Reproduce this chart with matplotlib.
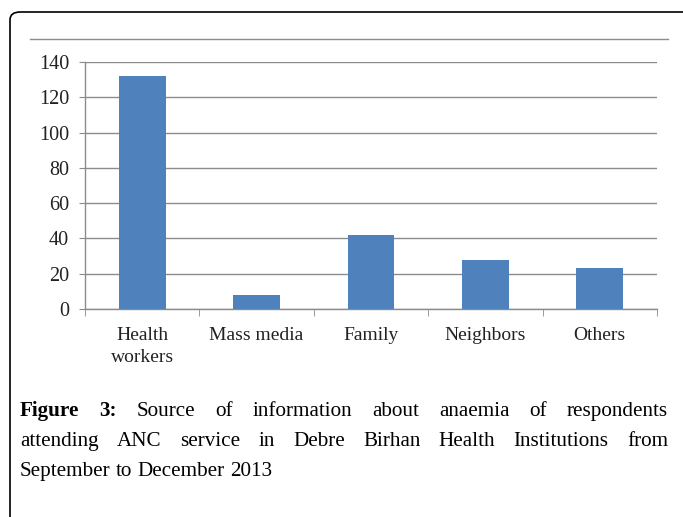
import matplotlib
matplotlib.use("Agg")
import matplotlib.pyplot as plt
from matplotlib.patches import FancyBboxPatch
from matplotlib.lines import Line2D
import numpy as np

categories = ["Health\nworkers", "Mass media", "Family", "Neighbors", "Others"]
values = [132, 8, 42, 28, 23]
yticks = [0, 20, 40, 60, 80, 100, 120, 140]
caption_lines = [
    ["Source", "of", "information", "about", "anaemia", "of", "respondents"],
    ["attending", "ANC", "service", "in", "Debre", "Birhan", "Health", "Institutions", "from"],
    ["September", "to", "December", "2013"],
]

W, H = 683, 517
fig = plt.figure(figsize=(W / 100, H / 100), dpi=100)
fig.patch.set_facecolor("white")

def fx(px):
    return px / W

def fy(py):
    return 1 - py / H

# Outer rounded border
box = FancyBboxPatch((fx(10), fy(530)), fx(700) - fx(10), fy(12) - fy(530),
                     boxstyle="round,pad=0,rounding_size=0.015",
                     transform=fig.transFigure, facecolor="none",
                     edgecolor="black", linewidth=1.2, clip_on=False)
fig.patches.append(box)

# top separator line
fig.add_artist(Line2D([fx(30), fx(668)], [fy(39), fy(39)], transform=fig.transFigure,
                      color="#8c8c8c", linewidth=1.0))

serif = "Liberation Serif"
ax = fig.add_axes([fx(85), fy(309), fx(657) - fx(85), fy(62) - fy(309)])
x = np.arange(len(categories))
ax.bar(x, values, width=0.41, color="#4F81BD", zorder=3)
ax.set_xlim(-0.5, len(categories) - 0.5)
ax.set_ylim(0, 140)
ax.set_yticks(yticks)
ax.set_yticklabels([str(v) for v in yticks], fontfamily=serif, fontsize=14.5, color="#222222")
ax.yaxis.grid(True, color="#8c8c8c", linewidth=1.0, zorder=0)
ax.set_xticks(x)
ax.set_xticklabels(categories, fontfamily=serif, fontsize=14, color="#222222")
for lab in ax.get_xticklabels():
    lab.set_linespacing(1.35)
ax.tick_params(axis="x", length=0, pad=13)
ax.tick_params(axis="y", length=4.5, color="#8c8c8c", pad=7)
# category boundary ticks
ax.set_xticks(np.arange(-0.5, len(categories)), minor=True)
ax.tick_params(axis="x", which="minor", length=5, color="#8c8c8c", direction="out")
for s in ["top", "right"]:
    ax.spines[s].set_visible(False)
for s in ["left", "bottom"]:
    ax.spines[s].set_color("#8c8c8c")
    ax.spines[s].set_linewidth(1.0)

# Caption, justified
fig.canvas.draw()
renderer = fig.canvas.get_renderer()
left_px, right_px = 20, 668

def width_px(t, fs, bold=False):
    tt = fig.text(0, 0, t, fontfamily=serif, fontsize=fs,
                  fontweight="bold" if bold else "normal")
    w = tt.get_window_extent(renderer).width
    tt.remove()
    return w

# fit size so the last (unjustified) line is ~253 px wide as in the reference
fs = 14.0 * 253 / width_px("September to December 2013", 14.0)
line_y = [416, 446, 476]

space_w = width_px("a b", fs) - width_px("ab", fs)
for i, words in enumerate(caption_lines):
    items = [(w, False) for w in words]
    if i == 0:
        items = [("Figure", True), ("3:", True)] + items
    widths = [width_px(w, fs, b) for w, b in items]
    if i < len(caption_lines) - 1:
        gap = (right_px - left_px - sum(widths)) / (len(items) - 1)
    else:
        gap = space_w
    xpos = left_px
    for (w, b), wd in zip(items, widths):
        fig.text(fx(xpos), fy(line_y[i]), w, fontfamily=serif, fontsize=fs,
                 fontweight="bold" if b else "normal", va="baseline", ha="left",
                 color="black")
        xpos += wd + gap

fig.savefig("out.png", dpi=100)
